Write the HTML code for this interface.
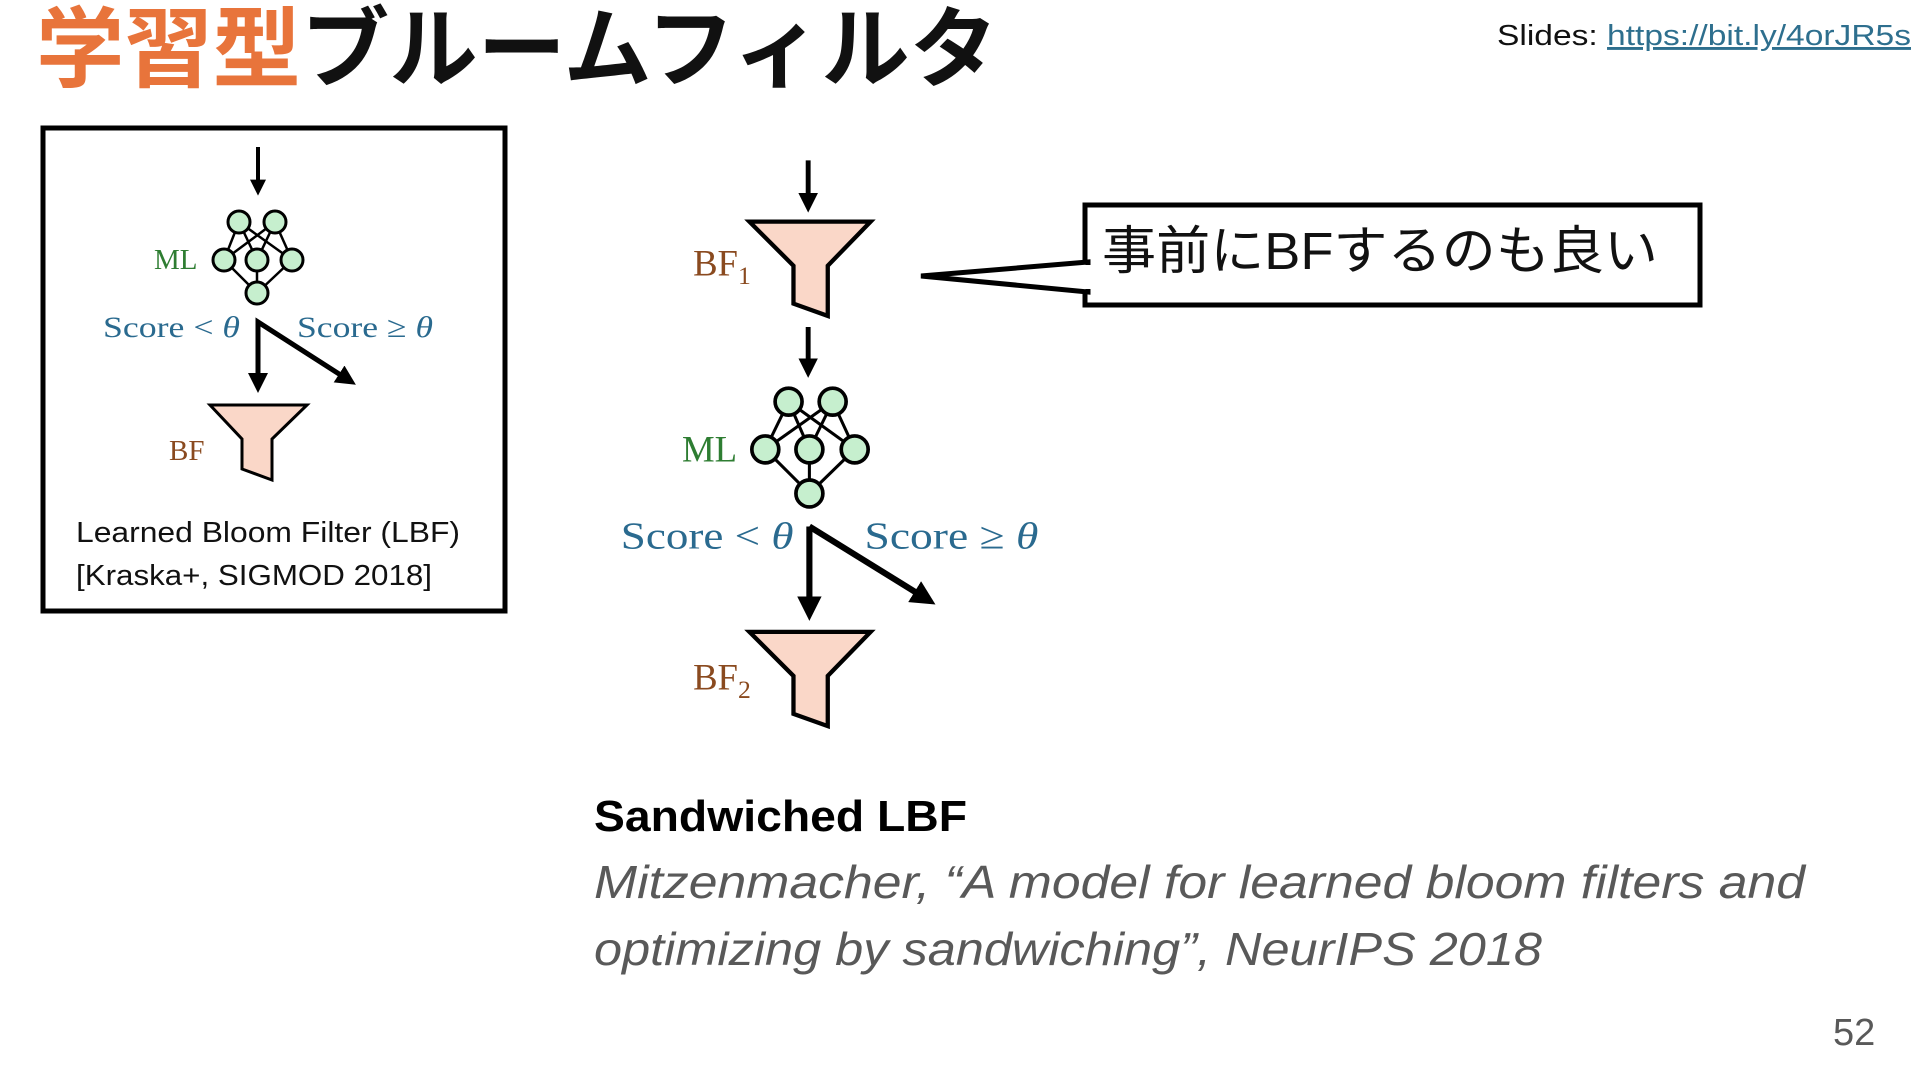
<!DOCTYPE html>
<html><head><meta charset="utf-8"><style>
html,body{margin:0;padding:0;background:#fff;}
svg{display:block;}
</style></head><body>
<svg width="1920" height="1080" viewBox="0 0 1920 1080" xmlns="http://www.w3.org/2000/svg">
<defs>
<marker id="ah" markerWidth="4" markerHeight="4" refX="2.6" refY="2" orient="auto" markerUnits="strokeWidth"><path d="M0,0 L4,2 L0,4 z" fill="#000"/></marker>
</defs>
<rect width="1920" height="1080" fill="#fff"/>
<!-- title -->
<text x="36" y="80" font-family="'Liberation Sans','Noto Sans CJK JP',sans-serif" font-weight="bold" font-size="88" textLength="962" lengthAdjust="spacingAndGlyphs"><tspan fill="#e8743b">学習型</tspan><tspan fill="#111">ブルームフィルタ</tspan></text>
<text x="1497" y="45" font-family="'Liberation Sans',sans-serif" font-size="29" fill="#111" textLength="414" lengthAdjust="spacingAndGlyphs">Slides: <tspan fill="#2e6f8e" text-decoration="underline">https://bit.ly/4orJR5s</tspan></text>

<!-- left box -->
<rect x="43" y="128" width="462" height="483" fill="none" stroke="#000" stroke-width="5"/>
<g font-family="'Liberation Serif','DejaVu Serif',serif">
<line x1="258" y1="147" x2="258" y2="190" stroke="#000" stroke-width="4" marker-end="url(#ah)"/>
<g stroke="#000" stroke-width="2.5">
<line x1="239" y1="222" x2="224" y2="260"/><line x1="239" y1="222" x2="257" y2="260"/><line x1="239" y1="222" x2="292" y2="260"/>
<line x1="275" y1="222" x2="224" y2="260"/><line x1="275" y1="222" x2="257" y2="260"/><line x1="275" y1="222" x2="292" y2="260"/>
<line x1="224" y1="260" x2="257" y2="293"/><line x1="257" y1="260" x2="257" y2="293"/><line x1="292" y1="260" x2="257" y2="293"/>
</g>
<g fill="#c6efce" stroke="#000" stroke-width="3">
<circle cx="239" cy="222" r="11"/><circle cx="275" cy="222" r="11"/>
<circle cx="224" cy="260" r="11"/><circle cx="257" cy="260" r="11"/><circle cx="292" cy="260" r="11"/>
<circle cx="257" cy="293" r="11"/>
</g>
<text x="154" y="269" font-size="29" fill="#2e7d32">ML</text>
<text x="103" y="337" font-size="30" fill="#2a6a8f" textLength="137" lengthAdjust="spacingAndGlyphs">Score &lt; <tspan font-style="italic">θ</tspan></text>
<text x="297" y="337" font-size="30" fill="#2a6a8f" textLength="136" lengthAdjust="spacingAndGlyphs">Score ≥ <tspan font-style="italic">θ</tspan></text>
<line x1="258" y1="324" x2="258" y2="386" stroke="#000" stroke-width="5" marker-end="url(#ah)"/>
<polyline points="258,324 258,322 350,381" fill="none" stroke="#000" stroke-width="5" marker-end="url(#ah)"/>
<polygon points="210,405 307,405 272,439 272,480 242,469 242,439" fill="#fad7c8" stroke="#000" stroke-width="3"/>
<text x="169" y="460" font-size="29" fill="#8a4a1f">BF</text>
</g>
<text x="76" y="542" font-family="'Liberation Sans',sans-serif" font-size="29" fill="#111" textLength="384" lengthAdjust="spacingAndGlyphs">Learned Bloom Filter (LBF)</text>
<text x="76" y="585" font-family="'Liberation Sans',sans-serif" font-size="29" fill="#111" textLength="356" lengthAdjust="spacingAndGlyphs">[Kraska+, SIGMOD 2018]</text>

<!-- main diagram (display coords) -->
<g transform="scale(1.2245)" font-family="'Liberation Serif','DejaVu Serif',serif">
<line x1="660" y1="131" x2="660" y2="168" stroke="#000" stroke-width="4" marker-end="url(#ah)"/>
<polygon points="612,181 711,181 676,217 676,258 648,248 648,217" fill="#fad7c8" stroke="#000" stroke-width="3.5"/>
<text x="566" y="225" font-size="30" fill="#8a4a1f">BF<tspan font-size="21" dy="7">1</tspan></text>
<line x1="660" y1="267" x2="660" y2="303" stroke="#000" stroke-width="4" marker-end="url(#ah)"/>
<g stroke="#000" stroke-width="2.5">
<line x1="644" y1="328" x2="625" y2="367"/><line x1="644" y1="328" x2="661" y2="367"/><line x1="644" y1="328" x2="698" y2="367"/>
<line x1="680" y1="328" x2="625" y2="367"/><line x1="680" y1="328" x2="661" y2="367"/><line x1="680" y1="328" x2="698" y2="367"/>
<line x1="625" y1="367" x2="661" y2="403"/><line x1="661" y1="367" x2="661" y2="403"/><line x1="698" y1="367" x2="661" y2="403"/>
</g>
<g fill="#c6efce" stroke="#000" stroke-width="3">
<circle cx="644" cy="328" r="11"/><circle cx="680" cy="328" r="11"/>
<circle cx="625" cy="367" r="11"/><circle cx="661" cy="367" r="11"/><circle cx="698" cy="367" r="11"/>
<circle cx="661" cy="403" r="11"/>
</g>
<text x="557" y="377" font-size="30" fill="#2e7d32">ML</text>
<text x="507" y="448" font-size="31" fill="#2a6a8f" textLength="141" lengthAdjust="spacingAndGlyphs">Score &lt; <tspan font-style="italic">θ</tspan></text>
<text x="706" y="448" font-size="31" fill="#2a6a8f" textLength="142" lengthAdjust="spacingAndGlyphs">Score ≥ <tspan font-style="italic">θ</tspan></text>
<line x1="661" y1="430" x2="661" y2="500" stroke="#000" stroke-width="5" marker-end="url(#ah)"/>
<line x1="661" y1="430" x2="758" y2="490" stroke="#000" stroke-width="5" marker-end="url(#ah)"/>
<polygon points="612,516 711,516 676,552 676,593 648,583 648,552" fill="#fad7c8" stroke="#000" stroke-width="3.5"/>
<text x="566" y="563" font-size="30" fill="#8a4a1f">BF<tspan font-size="21" dy="7">2</tspan></text>
</g>

<!-- callout -->
<rect x="1085" y="205" width="615" height="100" fill="#fff" stroke="#000" stroke-width="5"/>
<polygon points="1088,262 921,276 1088,292" fill="#fff" stroke="#000" stroke-width="5" stroke-linejoin="miter"/>
<rect x="1083" y="265" width="8" height="24" fill="#fff"/>
<text x="1102" y="269" font-family="'Liberation Sans','Noto Sans CJK JP',sans-serif" font-size="52" fill="#111" textLength="556" lengthAdjust="spacingAndGlyphs">事前にBFするのも良い</text>

<!-- bottom text -->
<text x="594" y="831" font-family="'Liberation Sans',sans-serif" font-weight="bold" font-size="44" fill="#000" textLength="373" lengthAdjust="spacingAndGlyphs">Sandwiched LBF</text>
<text x="594" y="898" font-family="'Liberation Sans',sans-serif" font-style="italic" font-size="46" fill="#595959" textLength="1211" lengthAdjust="spacingAndGlyphs">Mitzenmacher, “A model for learned bloom filters and</text>
<text x="594" y="965" font-family="'Liberation Sans',sans-serif" font-style="italic" font-size="46" fill="#595959" textLength="948" lengthAdjust="spacingAndGlyphs">optimizing by sandwiching”, NeurIPS 2018</text>
<text x="1833" y="1045" font-family="'Liberation Sans',sans-serif" font-size="38" fill="#595959">52</text>
</svg>
</body></html>
